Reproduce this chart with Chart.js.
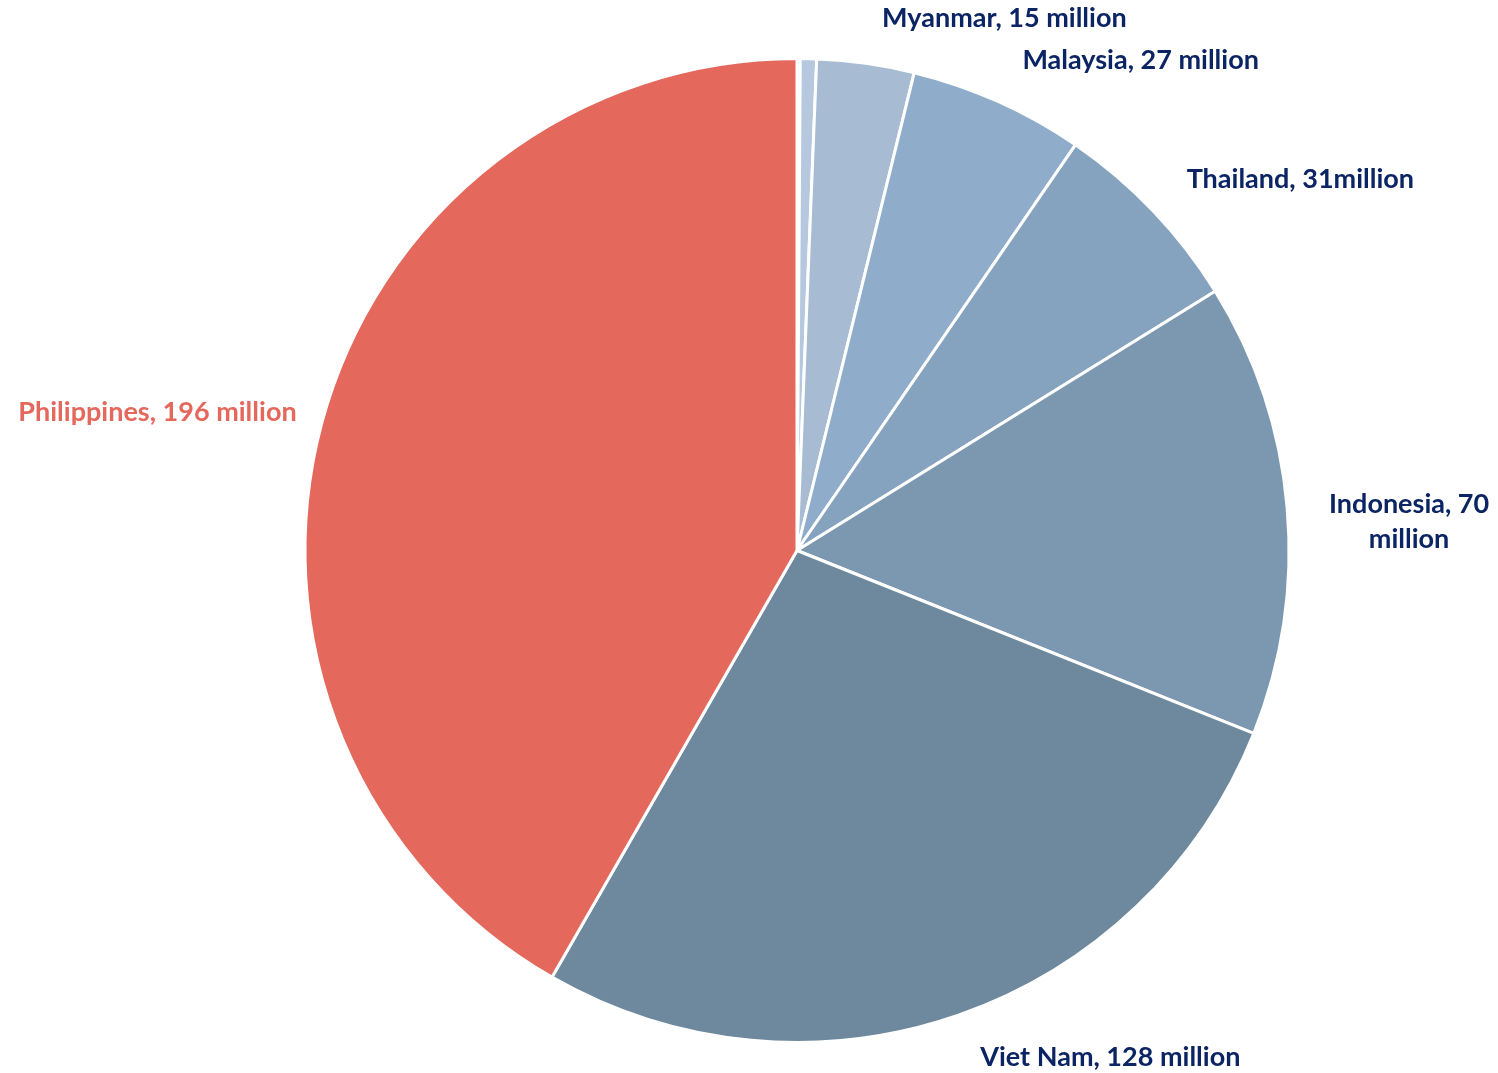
<!DOCTYPE html>
<html>
<head>
<meta charset="utf-8">
<title>Population by country</title>
<script src="https://cdn.jsdelivr.net/npm/chart.js@4/dist/chart.umd.min.js"></script>
<style>
  html, body { margin: 0; padding: 0; background: #ffffff; }
  #wrap { position: relative; width: 1498px; height: 1073px; }
</style>
</head>
<body>
<div id="wrap"><canvas id="pie"></canvas></div>
<script>
// Population in millions, clockwise from 12 o'clock
var countries = ['Brunei', 'Cambodia', 'Myanmar', 'Malaysia', 'Thailand', 'Indonesia', 'Viet Nam', 'Philippines'];
var values = [0.5, 2.5, 15, 27, 31, 70, 128, 196];
var labelTexts = [
  '', '',
  'Myanmar, 15 million',
  'Malaysia, 27 million',
  'Thailand, 31million',
  ['Indonesia, 70', 'million'],
  'Viet Nam, 128 million',
  'Philippines, 196 million'
];
var sliceColors = ['#c6d6e9', '#b5c8de', '#a7bbd3', '#8fadca', '#85a3bf', '#7c97b0', '#6e889e', '#e4685c'];
var labelColors = ['#0b2463', '#0b2463', '#0b2463', '#0b2463', '#0b2463', '#0b2463', '#0b2463', '#e4685c'];

// draws the category labels just outside each slice
var outsideLabels = {
  id: 'outsideLabels',
  afterDatasetsDraw: function (chart) {
    var ctx = chart.ctx;
    var arcs = chart.getDatasetMeta(0).data;
    var lineH = 35;
    var firstH = 30;
    ctx.save();
    ctx.font = 'bold 27px Lato';
    ctx.textAlign = 'center';
    ctx.textBaseline = 'middle';
    arcs.forEach(function (arc, i) {
      var text = labelTexts[i];
      if (!text) return;
      var lines = Array.isArray(text) ? text : [text];
      var mid = (arc.startAngle + arc.endAngle) / 2;
      var r = arc.outerRadius + 30;
      var px = arc.x + Math.cos(mid) * r;
      var py = arc.y + Math.sin(mid) * r;
      var w = Math.max.apply(null, lines.map(function (l) { return ctx.measureText(l).width; }));
      var up = -Math.sin(mid);
      var left = Math.cos(mid) >= 0 ? px + 12 : px + 4 - w;
      var top = py - firstH * (1 + up) / 2;
      ctx.fillStyle = labelColors[i];
      lines.forEach(function (l, k) {
        ctx.fillText(l, left + w / 2, top + firstH / 2 + lineH * k);
      });
    });
    ctx.restore();
  }
};

new Chart(document.getElementById('pie'), {
  type: 'pie',
  data: {
    labels: countries,
    datasets: [{
      data: values,
      backgroundColor: sliceColors,
      borderColor: '#ffffff',
      borderWidth: 3
    }]
  },
  options: {
    responsive: true,
    maintainAspectRatio: false,
    animation: false,
    layout: { padding: { top: 57, bottom: 29, left: 200, right: 104 } },
    plugins: {
      legend: { display: false },
      tooltip: { enabled: false }
    }
  },
  plugins: [outsideLabels]
});
</script>
</body>
</html>
